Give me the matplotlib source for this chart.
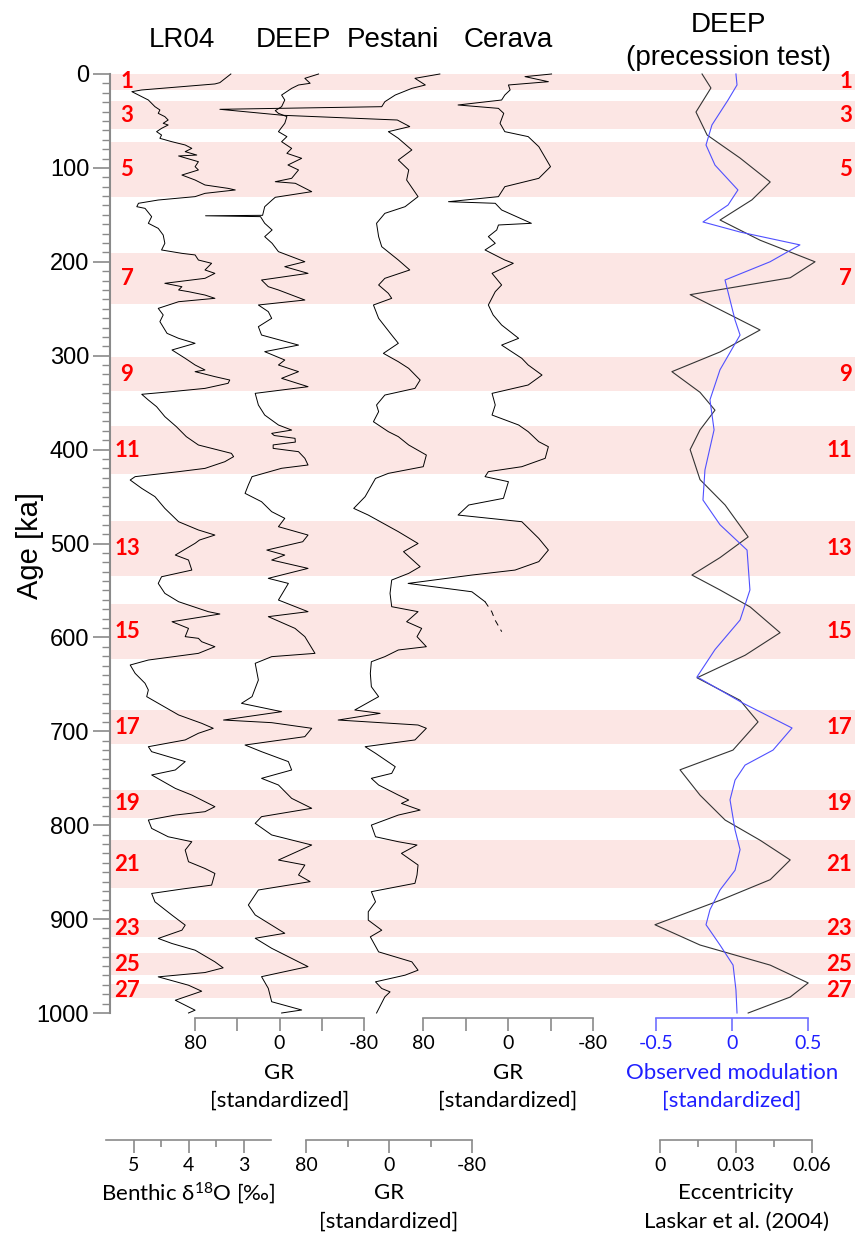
import numpy as np
import matplotlib.pyplot as plt
import matplotlib.transforms as mtransforms

plt.rcParams['font.family'] = ['Liberation Sans', 'DejaVu Sans']
plt.rcParams['axes.unicode_minus'] = False
plt.rcParams['mathtext.default'] = 'regular'

W, H = 855, 1235
CAL = ['Lato', 'DejaVu Sans']

# marine isotope stages (interglacials)
mis_stage = [1, 3, 5, 7, 9, 11, 13, 15, 17, 19, 21, 23, 25, 27]
mis_top = [0, 29, 72, 191, 301, 375, 476, 564, 677, 762, 816, 901, 936, 969]
mis_base = [17, 59, 131, 245, 338, 426, 535, 623, 714, 792, 867, 919, 960, 984]

# LR04 benthic d18O
lr04_age = [0, 9.2, 10.6, 17, 18.8, 22.4, 27.7, 34.8, 38.3, 41.9, 45.4, 49, 52.5, 54.3, 57.9, 61.4, 65, 68.5,
            72, 75.6, 79.2, 82.7, 86.3, 87.3, 93.4, 98.7, 102.2, 107.6, 112.9, 118.2, 121.8, 123.5, 127.1,
            130.6, 134.2, 137.7, 141.3, 143.1, 151.9, 159, 164.4, 171.5, 180.3, 187.4, 191, 192.7, 198.1,
            201.6, 208.7, 212.3, 217.6, 222.9, 226.5, 230, 231.8, 235.4, 238.9, 242.5, 249.6, 256.6, 263.7,
            276.2, 281.5, 286.8, 293.9, 302.8, 309.9, 315.2, 317, 322.3, 325.9, 329.4, 334.8, 338.3, 341.1,
            347.2, 354.3, 364.9, 375.6, 386.2, 395.1, 400.4, 404, 407.5, 412.9, 420, 423.5, 428.8, 432.4,
            441.3, 450.1, 462.6, 476.8, 485.6, 491, 496.3, 499.8, 512.3, 517.6, 528.3, 535.4, 542.5, 553.1,
            562, 572.6, 575.1, 583.3, 590.4, 599.2, 601, 604.6, 609.9, 617, 624.1, 629.4, 638.3, 648.9, 656,
            663.1, 670.2, 682.6, 691.5, 696.8, 702.1, 709.2, 716.4, 721.7, 732.3, 741.2, 746.5, 760.8, 767.9,
            780.3, 785.6, 789.2, 794.5, 803.4, 812.3, 817.6, 826.5, 838.9, 846.1, 851.4, 863.8, 868, 872.7,
            881.6, 895.8, 906.4, 911.8, 920.6, 926, 933.1, 945.5, 951.9, 956.9, 961.5, 970.4, 976.8, 986.4,
            997, 1000]
lr04_d18o = [3.23, 3.43, 3.52, 4.85, 5.03, 4.91, 4.73, 4.61, 4.52, 4.55, 4.43, 4.37, 4.46, 4.37, 4.49, 4.58, 4.49,
             4.52, 4.31, 4.06, 3.94, 4.06, 3.85, 4.18, 3.82, 3.88, 3.82, 4.12, 3.88, 3.70, 3.28, 3.15, 3.70,
             3.88, 4.55, 4.91, 4.94, 4.79, 4.67, 4.73, 4.55, 4.46, 4.43, 4.49, 4.12, 3.88, 3.82, 3.58, 3.70,
             3.52, 3.70, 4.43, 4.12, 4.18, 4.00, 3.70, 3.52, 4.18, 4.55, 4.46, 4.52, 4.39, 4.18, 3.88, 4.30,
             4.06, 3.88, 3.70, 3.88, 3.52, 3.25, 3.28, 3.70, 4.31, 4.85, 4.73, 4.58, 4.43, 4.22, 4.04, 3.82,
             3.46, 3.22, 3.18, 3.34, 3.70, 4.18, 4.97, 5.06, 4.85, 4.61, 4.43, 4.18, 3.82, 3.52, 3.80, 3.88,
             4.24, 4.00, 3.94, 4.49, 4.55, 4.43, 4.18, 3.64, 3.43, 4.30, 4.00, 4.06, 3.82, 3.76, 3.52, 3.82,
             4.73, 5.06, 4.97, 4.79, 4.73, 4.76, 4.55, 4.18, 3.76, 3.55, 3.82, 4.06, 4.73, 4.67, 4.06, 4.24,
             4.67, 4.24, 3.94, 3.52, 3.70, 4.24, 4.73, 4.67, 4.37, 3.94, 4.06, 4.00, 3.70, 3.52, 3.58, 4.12,
             4.67, 4.61, 4.30, 4.06, 4.12, 4.55, 4.30, 3.88, 3.52, 3.37, 3.70, 4.55, 4.00, 3.76, 4.24, 3.88,
             4.00]

# DEEP gamma ray (standardized)
deep_age = [0, 4.6, 9.9, 11.7, 15.3, 22.4, 27.7, 34.8, 39, 41.9, 45.4, 52.5, 61.4, 66.7, 72.1, 79.2, 84.5, 89.8,
            96.9, 102.2, 111.1, 114.7, 116.4, 125.3, 131.3, 134.2, 141.3, 150.5, 151, 151.9, 159, 166.1, 173.2,
            180.3, 189.2, 199.9, 205.2, 212.3, 219.4, 226.5, 230, 240.7, 246, 253.1, 260.2, 269.1, 278, 288.7,
            295.7, 304.6, 309.9, 317, 324.1, 333, 340.1, 352.5, 363.2, 373.8, 379.2, 382.7, 385, 388, 392, 395,
            398.7, 402.2, 409.3, 416.4, 419.9, 428.8, 437.7, 446.6, 455.5, 466.1, 473.2, 482.1, 491, 498.1,
            507, 512.3, 517.6, 526.5, 537.1, 542.5, 560.2, 572.6, 577.9, 590.4, 599.2, 617, 620.5, 627.6,
            645.4, 663.1, 670.2, 679.1, 688, 690.8, 696.8, 705.7, 714.6, 721.7, 732.3, 741.2, 750.1, 757.2,
            771.4, 782, 790.9, 798, 810.4, 821.1, 837.1, 842.4, 853, 860.1, 869, 885, 895.6, 915.1, 920.4,
            931.1, 941.8, 950.6, 961.3, 973.8, 988, 996.8, 1000]
deep_gr = [-37, -24, -29, -18, -11.5, -2, -5, -2, 4, 1, -7, -5, 1, -7, -2, -11.5, -7, -21, -8, -18, -11.5, 4, -15,
           -30.5, 4, 7, 14, 16, 70, 18, 14, 7, 14, 7, 1, -24, -5, -27, 17, 10.6, 1, -24, 20, 10.6, 7.4, 20, 17,
           -18, 14, -5, 1, -18, -2, -27, 23, 20, 14, 1, -11.5, 7.4, 5, -14.7, -15, 6, 6, -18, -24, -27, -2, 26,
           29.5, 32.6, 17, 7.4, -5, 1, -27, -22, 12, -5, 7.4, -27, 10.6, -8.4, 1, -27, 10.6, -14.7, -24,
           -33.6, 7.4, 23, 20, 26, 36, -2, 53, 7.4, -30.5, -24, 32.6, 17, -8.4, -11.5, 17, 1, -11.5, -30.5,
           17, 23, 7.4, -30.5, 1, -24, -18, -29, 20, 29.5, 23, -5, 23, 7.4, -11.5, -27, 17, 10.6, 7.4, -21,
           -2]

# Pestani gamma ray (standardized)
pestani_age = [0, 4.6, 11.7, 15.3, 22.4, 29.5, 34.8, 37.6, 44, 49, 56, 61.4, 68.5, 80.9, 91.6, 102.2, 112.9,
               130.6, 141.3, 148.4, 159, 173.2, 183.9, 198.1, 208.7, 217.6, 224.7, 233.6, 238.9, 246, 260.2,
               278, 286.8, 297.5, 306.4, 313.5, 325.9, 334.8, 341.9, 352.5, 359.6, 370.3, 380.9, 386.2, 395.1,
               405.8, 418.2, 425.3, 430.7, 450.1, 462.6, 469.7, 487.4, 500, 508.7, 524.7, 531.8, 538.9, 553.1,
               567.3, 572.6, 583.3, 590.4, 599.2, 609.9, 613.4, 620.5, 625.9, 638.3, 652.5, 663.1, 677.3,
               680.9, 688, 693.3, 696.8, 709.2, 716.4, 723.4, 737.7, 744.8, 750.1, 757.2, 767.9, 773.2, 776.8,
               783.9, 789.2, 799.9, 812.3, 817.6, 821.1, 830, 842.4, 853, 861.9, 870.8, 881.6, 892.2, 901.1,
               911.8, 918.9, 934.9, 940.2, 945.5, 954.4, 959.7, 966.8, 973.9, 977.5, 982.8, 1000]
pestani_gr = [-49, -25, -35, -22, -6, 4, 7, 163, 102, -8, -20, 0.6, -9, -22, -9, -19, -17, -28, -15.5, 4, 12, 10,
              7, -9, -20, 4, 10, 0.6, -2.6, 15, 10, -2.6, -9, 5.4, -9, -19, -30, -25, 4, 12, 10, 15, 0.6, -9, -19,
              -36, -33, 0.6, 13, 23, 34, 20, -9, -28, -14, -30, -19, -2.6, -1, -2.6, -28, -17, -31.5, -27, -36,
              -9, 4, 17, 18, 17, 10, 33, 8.6, 49, -28, -36, -25, 23, 13, -6, -2.6, 17, 10, -9, -19, -12, -30,
              -9, 17, 13, -9, -27, -12, -28, -27, -25, 17, 13, 20, 20, 7, 18, 10, -6, -22, -28, -15.5, 13, 7,
              -1, 4, 12]

# Cerava gamma ray (standardized); dashed tail
cerava_age = [0, 2.8, 8.2, 11.7, 17, 22.4, 27.7, 33, 36.6, 41.9, 52.5, 61.4, 66.7, 77.4, 98.7, 111.1, 120, 130.6,
              136, 137.7, 144.8, 159, 160.8, 166.1, 173.2, 180.3, 187.4, 198.1, 201.6, 212.3, 224.7, 231.8, 246,
              256.6, 267.3, 281.5, 288.7, 302.8, 309.9, 320.6, 331.2, 340.1, 352.5, 363.2, 373.8, 380.9, 391.6,
              396.9, 409.3, 418.2, 423.5, 428.8, 434.2, 451.9, 459, 469.7, 476.8, 494.6, 507, 519.3, 528.3,
              533.6, 542.5, 551.4, 562]
cerava_gr = [-41, -16, -38, -0.4, -2, 3, 6, 47, 9, 4, 7.5, 3, -19, -29, -40, -29, 3, 9, 56, 12, 6, -22, 9, 10.6,
             18.5, 12, 21.6, 3, -5, 15, 6, 12, 18.5, 14, 6, -10, 6, -13, -19, -32, -19, 15, 12, 15, -10, -19, -29,
             -38, -35, -13, 18.5, 21.6, -0.4, 4.3, 37, 47, -13, -29, -38, -29, -6.6, 34, 94, 34, 21.6]
cerava_tail_age = [562, 572.6, 581.5, 593.9]
cerava_tail_gr = [21.6, 15.3, 12.2, 5.9]

# precession test: eccentricity (Laskar et al. 2004) and observed modulation
ecc_age = [0, 14.9, 40.5, 65, 89.5, 115, 134, 155.5, 177, 200, 217, 235, 251, 272.6, 296, 317, 339, 358, 379,
           400, 432, 459, 493, 515, 533.6, 549.5, 567.6, 595, 619, 643, 667, 690, 720, 741, 768, 794.5, 816,
           837, 858, 880, 906, 927.6, 949, 968, 983, 1000]
ecc_val = [0.0166, 0.0201, 0.0142, 0.0186, 0.0316, 0.0435, 0.0363, 0.0237, 0.0395, 0.0612, 0.0514, 0.0119,
           0.0237, 0.0395, 0.0237, 0.0047, 0.0158, 0.0217, 0.0158, 0.0119, 0.0158, 0.0257, 0.0348, 0.0237,
           0.0126, 0.0237, 0.0356, 0.0474, 0.0336, 0.0146, 0.0316, 0.0387, 0.0288, 0.0079, 0.0158, 0.0257,
           0.0395, 0.0514, 0.0435, 0.0237, -0.0020, 0.0158, 0.0435, 0.0585, 0.0514, 0.0348]
mod_age = [0, 11.7, 27.7, 54.3, 75.6, 97, 123.5, 139.5, 157.6, 168.3, 182, 200, 219.4, 262, 278, 315, 347, 379,
           421.7, 453.7, 480, 507, 549.5, 581.5, 613, 642, 656, 670, 696.5, 720, 736, 752, 773, 805, 826, 848,
           869, 890, 906, 927.6, 949, 975.5, 1000]
mod_val = [0.026, 0.033, -0.026, -0.132, -0.171, -0.112, 0.039, -0.026, -0.191, 0.053, 0.447, 0.25, -0.046, 0.02,
           0.053, -0.079, -0.145, -0.118, -0.178, -0.191, -0.079, 0.099, 0.118, 0.053, -0.112, -0.23, -0.079,
           0.072, 0.395, 0.27, 0.086, 0.02, -0.013, 0.02, 0.053, 0.02, -0.079, -0.145, -0.171, -0.079, 0.007,
           0.026, 0.033]

pink = '#fce6e4'
grey = '#8a8a8a'
blue_line = '#5050ff'
blue_text = '#1f1fff'

fig = plt.figure(figsize=(W / 100, H / 100), dpi=100)


def px_axes(x0, y0, x1, y1):
    return fig.add_axes([x0 / W, 1 - y1 / H, (x1 - x0) / W, (y1 - y0) / H])


# age axis, MIS bands
ax = px_axes(110, 74, 855, 1013)
ax.set_xlim(0, 1)
ax.set_ylim(1000, 0)
for s in ['top', 'right', 'bottom']:
    ax.spines[s].set_visible(False)
ax.spines['left'].set_color(grey)
ax.spines['left'].set_linewidth(1.5)
ax.set_xticks([])
ax.set_yticks(np.arange(0, 1001, 100))
ax.set_yticks(np.arange(0, 1001, 10), minor=True)
ax.tick_params(axis='y', which='major', length=12, width=1.2, color=grey, labelsize=17, pad=3)
ax.tick_params(axis='y', which='minor', length=6, width=1, color=grey)
fig.text(30 / W, 1 - 545 / H, 'Age [ka]', rotation=90, ha='center', va='center', fontsize=21)

trans = mtransforms.blended_transform_factory(ax.transAxes, ax.transData)
for s, t, b in zip(mis_stage, mis_top, mis_base):
    ax.axhspan(t, b, color=pink, lw=0, zorder=0)
    ax.text(0.0228, (t + b) / 2, str(s), transform=trans, ha='center', va='center',
            color='red', fontweight='bold', fontsize=16, family=CAL)
    ax.text(0.996, (t + b) / 2, str(s), transform=trans, ha='right', va='center',
            color='red', fontweight='bold', fontsize=16, family=CAL)


def track(x0, x1, xlim):
    a = px_axes(x0, 74, x1, 1013)
    a.set_xlim(xlim)
    a.set_ylim(1000, 0)
    a.axis('off')
    a.patch.set_alpha(0)
    return a


t_lr = track(106, 271, (5.5, 2.5))
t_lr.plot(lr04_d18o, lr04_age, color='k', lw=0.7, clip_on=False)
t_dp = track(195, 364, (80, -80))
t_dp.plot(deep_gr, deep_age, color='k', lw=0.7, clip_on=False)
t_pe = track(306, 472, (80, -80))
t_pe.plot(pestani_gr, pestani_age, color='k', lw=0.7, clip_on=False)
t_ce = track(423, 593, (80, -80))
t_ce.plot(cerava_gr, cerava_age, color='k', lw=0.7, clip_on=False)
t_ce.plot(cerava_tail_gr, cerava_tail_age, color='k', lw=0.7, ls=(0, (6, 5)), clip_on=False)
t_ec = track(660, 812, (0, 0.06))
t_ec.plot(ecc_val, ecc_age, color='#333333', lw=0.8, clip_on=False)
t_md = track(656, 808, (-0.5, 0.5))
t_md.plot(mod_val, mod_age, color=blue_line, lw=0.8, clip_on=False)

# titles
for x, y, txt in [(182, 40, 'LR04'), (293, 40, 'DEEP'), (393, 40, 'Pestani'), (508, 40, 'Cerava'),
                  (728, 25, 'DEEP'), (728, 58, '(precession test)')]:
    fig.text(x / W, 1 - y / H, txt, ha='center', va='center', fontsize=20)


def scale_bar(x0, x1, y, xlim, major, labels, minor, color, tcolor, minor_len, lines, line_y):
    a = px_axes(x0, y - 1, x1, y)
    a.patch.set_alpha(0)
    for s in ['top', 'right', 'left']:
        a.spines[s].set_visible(False)
    a.spines['bottom'].set_color(color)
    a.spines['bottom'].set_linewidth(1.2)
    a.set_xlim(xlim)
    a.set_yticks([])
    a.set_xticks(major, labels=labels)
    a.set_xticks(minor, minor=True)
    a.tick_params(axis='x', which='major', length=9.5, width=1.2, color=color, labelcolor=tcolor,
                  labelsize=14, pad=3)
    a.tick_params(axis='x', which='minor', length=minor_len, width=1.2, color=color)
    for lab in a.get_xticklabels():
        lab.set_family(CAL)
    for txt, ly in zip(lines, line_y):
        fig.text((x0 + x1) / 2 / W, 1 - ly / H, txt, ha='center', va='center', fontsize=16,
                 color=tcolor, family=CAL)


gr_lab = ['80', '0', '-80']
scale_bar(195, 364, 1018, (80, -80), [80, 0, -80], gr_lab, [40, -40], grey, 'k', 9.5,
          ['GR', '[standardized]'], [1073, 1101])
scale_bar(423, 593, 1018, (80, -80), [80, 0, -80], gr_lab, [40, -40], grey, 'k', 9.5,
          ['GR', '[standardized]'], [1073, 1101])
scale_bar(656, 808, 1018, (-0.5, 0.5), [-0.5, 0, 0.5], ['-0.5', '0', '0.5'], [], '#7070ff', blue_text, 0,
          ['Observed modulation', '[standardized]'], [1073, 1101])
scale_bar(106, 271, 1140, (5.5, 2.5), [5, 4, 3], ['5', '4', '3'], [4.5, 3.5], grey, 'k', 5,
          [r'Benthic δ$^{18}$O [‰]'], [1193])
scale_bar(306, 472, 1140, (80, -80), [80, 0, -80], gr_lab, [40, -40], grey, 'k', 5,
          ['GR', '[standardized]'], [1193, 1222])
scale_bar(660, 812, 1140, (0, 0.06), [0, 0.03, 0.06], ['0', '0.03', '0.06'], [0.015, 0.045], grey, 'k', 5,
          ['Eccentricity', 'Laskar et al. (2004)'], [1193, 1222])

fig.savefig('out.png', dpi=100)
